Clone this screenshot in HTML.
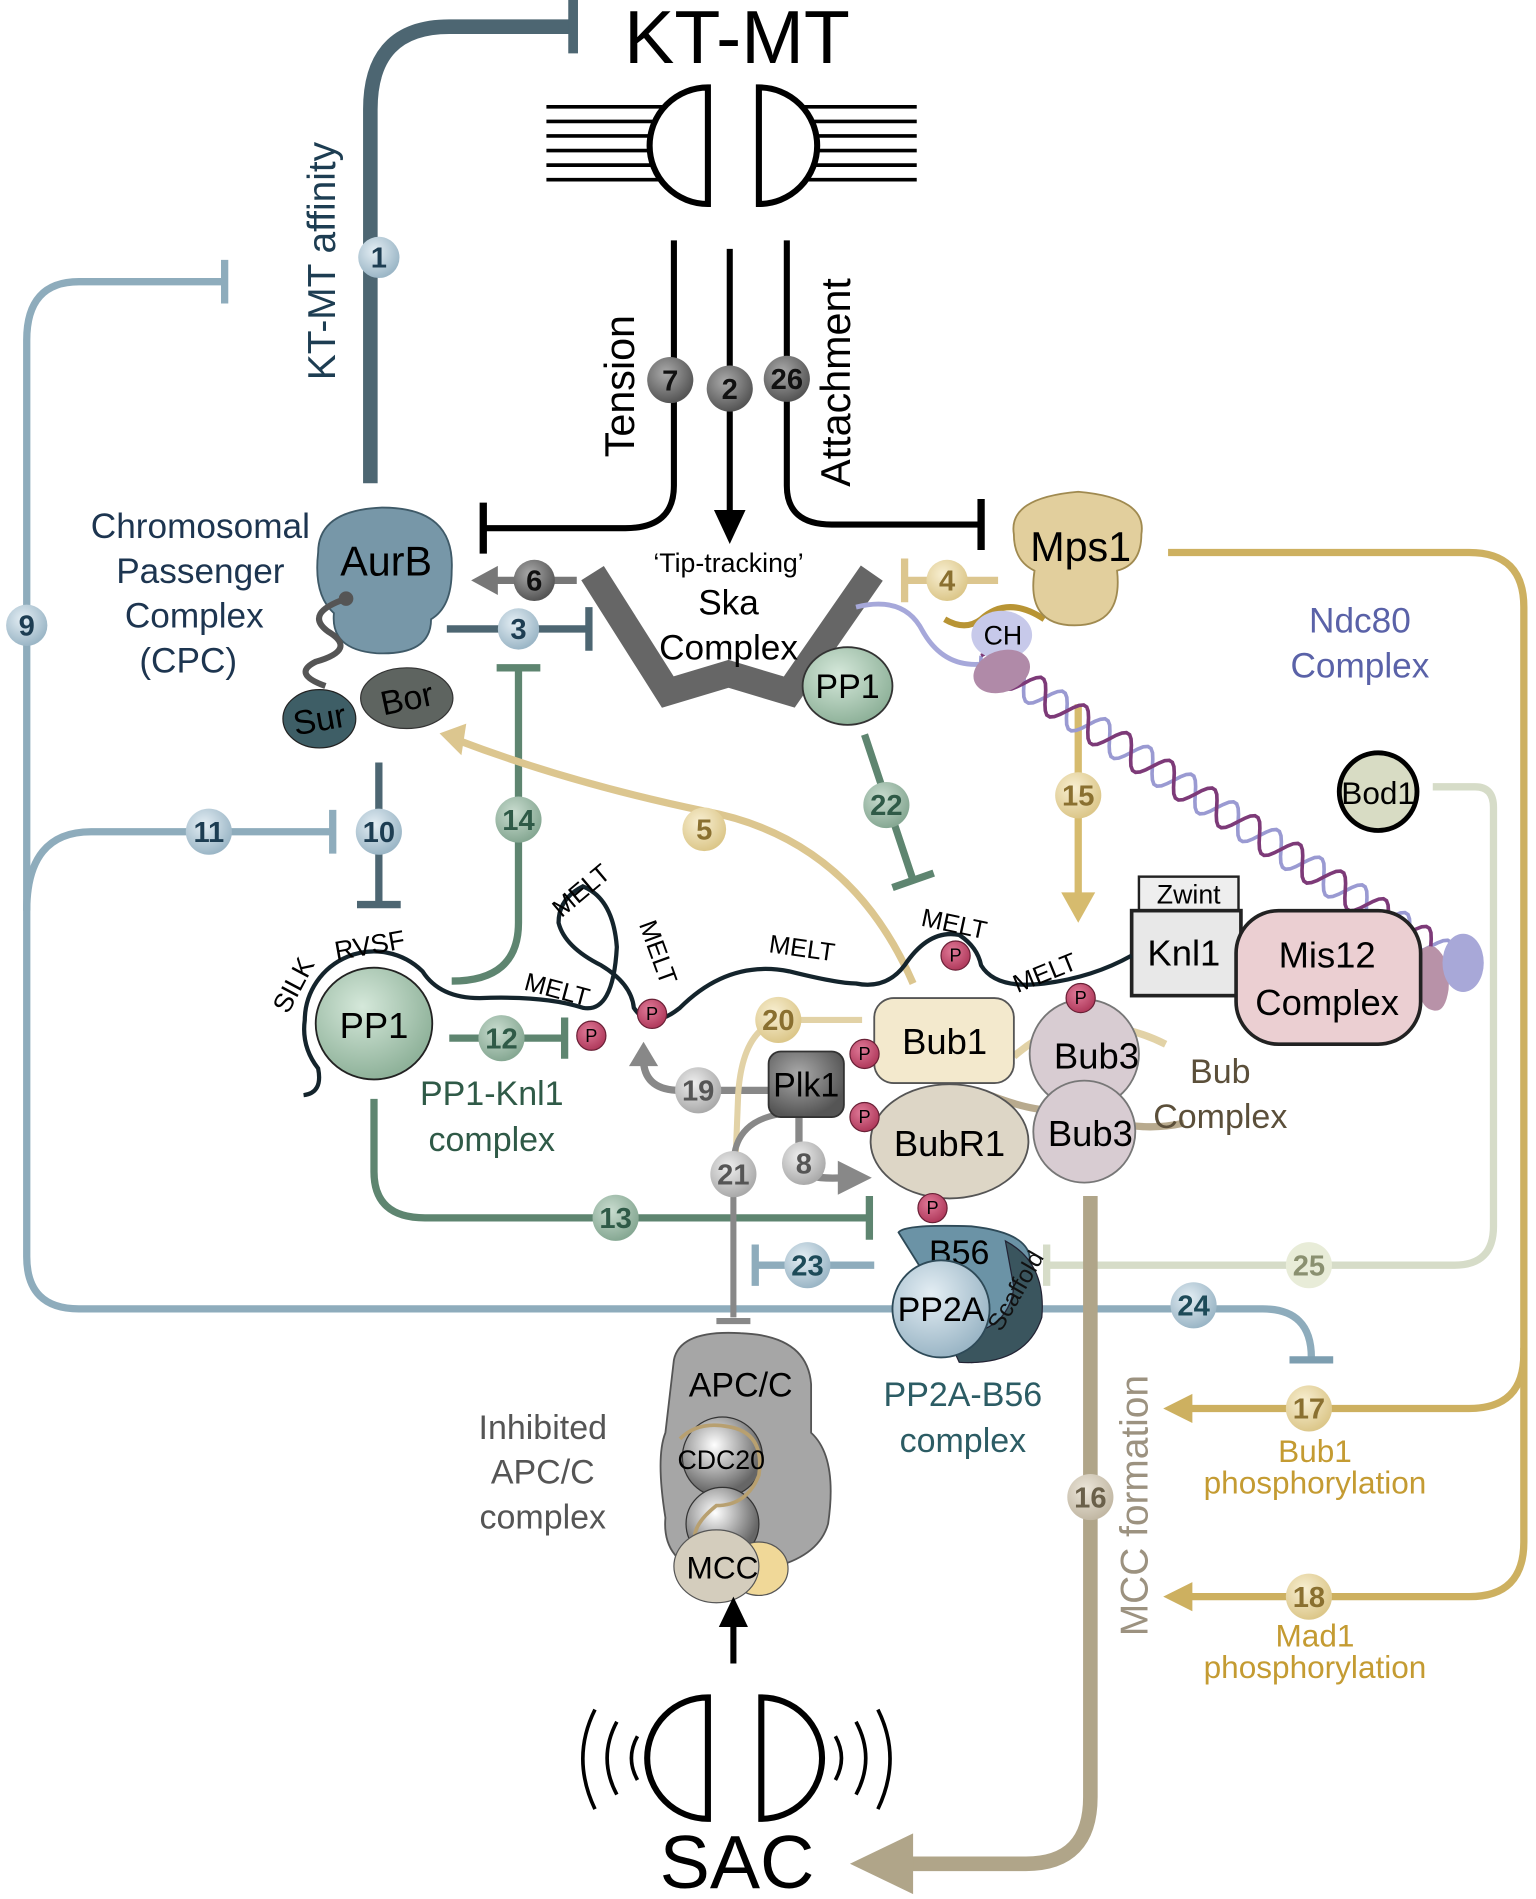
<!DOCTYPE html>
<html><head><meta charset="utf-8"><style>
html,body{margin:0;padding:0;background:#fff}
svg{display:block}
text{font-family:"Liberation Sans",sans-serif}
.n{font-weight:bold;font-size:24px;text-anchor:middle;dominant-baseline:central}
</style></head><body>
<svg id="s" width="1536" height="1899" viewBox="0 0 1265 1564" xmlns="http://www.w3.org/2000/svg">
<defs>
<radialGradient id="gb" cx="40%" cy="35%" r="65%"><stop offset="0" stop-color="#e4eef4"/><stop offset="1" stop-color="#9bb6c6"/></radialGradient>
<radialGradient id="gd" cx="40%" cy="35%" r="65%"><stop offset="0" stop-color="#aaa"/><stop offset="1" stop-color="#555"/></radialGradient>
<radialGradient id="gg" cx="40%" cy="35%" r="65%"><stop offset="0" stop-color="#c9dccf"/><stop offset="1" stop-color="#86a893"/></radialGradient>
<radialGradient id="gy" cx="40%" cy="35%" r="65%"><stop offset="0" stop-color="#f8efd2"/><stop offset="1" stop-color="#dcc78a"/></radialGradient>
<radialGradient id="gl" cx="40%" cy="35%" r="65%"><stop offset="0" stop-color="#eee"/><stop offset="1" stop-color="#aaa"/></radialGradient>
<radialGradient id="gt" cx="40%" cy="35%" r="65%"><stop offset="0" stop-color="#ece6da"/><stop offset="1" stop-color="#c2b8a4"/></radialGradient>
<radialGradient id="gp" cx="40%" cy="35%" r="65%"><stop offset="0" stop-color="#e07a98"/><stop offset="1" stop-color="#b03a5c"/></radialGradient>
<radialGradient id="gpp" cx="40%" cy="35%" r="65%"><stop offset="0" stop-color="#d5e8da"/><stop offset="1" stop-color="#8fb29a"/></radialGradient>
<radialGradient id="gs" cx="40%" cy="35%" r="60%"><stop offset="0" stop-color="#fff"/><stop offset="1" stop-color="#666"/></radialGradient>
</defs>

<text x="607" y="52" font-size="62" text-anchor="middle">KT-MT</text>
<g stroke="#000" stroke-width="3" fill="#fff">
<line x1="450" y1="88" x2="560" y2="88"/><line x1="450" y1="100" x2="560" y2="100"/><line x1="450" y1="112" x2="560" y2="112"/><line x1="450" y1="124" x2="560" y2="124"/><line x1="450" y1="136" x2="560" y2="136"/><line x1="450" y1="148" x2="560" y2="148"/>
<line x1="650" y1="88" x2="755" y2="88"/><line x1="650" y1="100" x2="755" y2="100"/><line x1="650" y1="112" x2="755" y2="112"/><line x1="650" y1="124" x2="755" y2="124"/><line x1="650" y1="136" x2="755" y2="136"/><line x1="650" y1="148" x2="755" y2="148"/>
<path d="M583 72 L583 168 A48 48 0 0 1 583 72 Z" stroke-width="5"/>
<path d="M625 72 L625 168 A48 48 0 0 0 625 72 Z" stroke-width="5"/>
</g>

<path d="M305 398 L305 90 Q305 22 370 22 L470 22" stroke="#4d6672" stroke-width="12" fill="none"/>
<line x1="472" y1="0" x2="472" y2="44" stroke="#4d6672" stroke-width="8"/>
<text transform="translate(276,215) rotate(-90)" font-size="32" fill="#1d3d52" text-anchor="middle">KT-MT affinity</text>

<path d="M185 232 L65 232 Q22 232 22 280 L22 1035 Q22 1078 65 1078 L1040 1078 Q1080 1078 1080 1118" stroke="#8eacbc" stroke-width="6" fill="none"/>
<line x1="185" y1="214" x2="185" y2="250" stroke="#8eacbc" stroke-width="6"/>
<line x1="1062" y1="1120" x2="1098" y2="1120" stroke="#7d9eb0" stroke-width="6"/>
<path d="M22 750 Q22 685 75 685 L272 685" stroke="#8eacbc" stroke-width="6" fill="none"/>
<line x1="274" y1="667" x2="274" y2="703" stroke="#8eacbc" stroke-width="6"/>
<line x1="312" y1="628" x2="312" y2="745" stroke="#4d6672" stroke-width="6"/>
<line x1="294" y1="745" x2="330" y2="745" stroke="#4d6672" stroke-width="6"/>

<text font-size="29" fill="#1d3550" text-anchor="middle"><tspan x="165" y="443">Chromosomal</tspan><tspan x="165" y="480">Passenger</tspan><tspan x="160" y="517">Complex</tspan><tspan x="155" y="554">(CPC)</tspan></text>
<path d="M262 455 Q262 420 315 418 Q375 418 372 470 Q372 500 355 510 Q355 540 310 538 Q272 535 275 505 Q258 490 262 455Z" fill="#7797a8" stroke="#3f5a68" stroke-width="1.5"/>
<text x="318" y="474" font-size="34" text-anchor="middle">AurB</text>
<path d="M285 493 Q250 505 270 520 Q295 535 260 545 Q240 555 268 565" stroke="#555" stroke-width="5" fill="none"/>
<circle cx="285" cy="493" r="6" fill="#555"/>
<ellipse cx="335" cy="575" rx="38" ry="25" fill="#5e6460" stroke="#333"/>
<ellipse cx="263" cy="592" rx="30" ry="24" fill="#3e5e66" stroke="#222"/>
<text x="335" y="585" font-size="28" text-anchor="middle" transform="rotate(-12 335 575)">Bor</text>
<text x="263" y="602" font-size="28" text-anchor="middle" transform="rotate(-10 263 592)">Sur</text>

<path d="M555 198 L555 400 Q555 435 515 435 L398 435" stroke="#000" stroke-width="5" fill="none"/>
<line x1="398" y1="414" x2="398" y2="456" stroke="#000" stroke-width="6"/>
<line x1="601" y1="205" x2="601" y2="425" stroke="#000" stroke-width="5"/>
<polygon points="588,420 614,420 601,448" fill="#000"/>
<path d="M648 198 L648 400 Q648 432 685 432 L808 432" stroke="#000" stroke-width="5" fill="none"/>
<line x1="808" y1="411" x2="808" y2="453" stroke="#000" stroke-width="6"/>
<text transform="translate(522,318) rotate(-90)" font-size="34" text-anchor="middle">Tension</text>
<text transform="translate(700,315) rotate(-90)" font-size="34" text-anchor="middle">Attachment</text>

<line x1="475" y1="478" x2="405" y2="478" stroke="#777" stroke-width="6"/>
<polygon points="410,466 410,490 388,478" fill="#777"/>
<line x1="368" y1="518" x2="485" y2="518" stroke="#4d6672" stroke-width="6"/>
<line x1="485" y1="500" x2="485" y2="536" stroke="#4d6672" stroke-width="6"/>

<polyline points="488,472 550,570 600,555 650,570 718,472" stroke="#666" stroke-width="22" fill="none" stroke-linejoin="miter"/>
<text x="600" y="471" font-size="22" text-anchor="middle">‘Tip-tracking’</text>
<text x="600" y="506" font-size="29" text-anchor="middle">Ska</text>
<text x="600" y="543" font-size="29" text-anchor="middle">Complex</text>
<ellipse cx="698" cy="565" rx="37" ry="32" fill="url(#gpp)" stroke="#333" stroke-width="1.5"/>
<text x="698" y="575" font-size="28" text-anchor="middle">PP1</text>

<path d="M372 808 Q427 808 427 760 L427 552" stroke="#5e8570" stroke-width="6" fill="none"/>
<line x1="409" y1="550" x2="445" y2="550" stroke="#5e8570" stroke-width="6"/>
<line x1="712" y1="605" x2="752" y2="725" stroke="#5e8570" stroke-width="6"/>
<line x1="735" y1="731" x2="769" y2="719" stroke="#5e8570" stroke-width="6"/>
<path d="M752 810 Q700 690 580 668 Q470 645 378 610" stroke="#dcc68f" stroke-width="6" fill="none"/>
<polygon points="362,604 384,596 380,622" fill="#dcc68f"/>

<path d="M962 455 L1210 455 Q1255 455 1255 500 L1255 1115 Q1255 1160 1210 1160 L975 1160" stroke="#cdb060" stroke-width="6" fill="none"/>
<path d="M1255 1110 L1255 1270 Q1255 1315 1210 1315 L975 1315" stroke="#cdb060" stroke-width="6" fill="none"/>
<polygon points="958,1160 982,1148 982,1172" fill="#cdb060"/>
<polygon points="958,1315 982,1303 982,1327" fill="#cdb060"/>
<text font-size="26" fill="#c49b32" text-anchor="middle"><tspan x="1083" y="1204">Bub1</tspan><tspan x="1083" y="1230">phosphorylation</tspan><tspan x="1083" y="1356">Mad1</tspan><tspan x="1083" y="1382">phosphorylation</tspan></text>
<line x1="822" y1="478" x2="745" y2="478" stroke="#dcc68f" stroke-width="6"/>
<line x1="745" y1="460" x2="745" y2="496" stroke="#dcc68f" stroke-width="6"/>
<line x1="888" y1="580" x2="888" y2="740" stroke="#d6bb6e" stroke-width="6"/>
<polygon points="874,735 902,735 888,760" fill="#d6bb6e"/>

<path d="M1180 648 L1215 648 Q1230 648 1230 665 L1230 1010 Q1230 1042 1198 1042 L862 1042" stroke="#d6dcc8" stroke-width="6" fill="none"/>
<line x1="862" y1="1025" x2="862" y2="1059" stroke="#d6dcc8" stroke-width="6"/>

<path id="hx1" stroke="#9a9ad2" stroke-width="3" fill="none"/>
<path id="hx2" stroke="#7d3a78" stroke-width="3" fill="none"/>
<path d="M705 500 Q745 490 760 520 Q780 555 820 545" stroke="#a6a8da" stroke-width="4" fill="none"/>
<path d="M778 510 Q795 520 808 510 Q830 490 860 510" stroke="#b89434" stroke-width="5" fill="none"/>
<ellipse cx="825" cy="523" rx="25" ry="20" fill="#c7c9ea"/>
<text x="826" y="531" font-size="22" text-anchor="middle">CH</text>
<ellipse cx="825" cy="553" rx="24" ry="17" fill="#b08aa8" transform="rotate(-20 825 553)"/>
<path d="M835 440 Q830 410 888 405 Q945 410 940 440 Q940 465 920 470 Q925 515 885 515 Q845 515 852 470 Q835 462 835 440Z" fill="#e2cf9d" stroke="#a08a50" stroke-width="1.5"/>
<text x="890" y="462" font-size="34" text-anchor="middle">Mps1</text>
<path d="M1168 805 Q1165 775 1182 780 Q1195 790 1193 815 Q1190 835 1180 832 Q1168 830 1168 805Z" fill="#b892a8"/>
<ellipse cx="1205" cy="793" rx="17" ry="24" fill="#a8a8d8"/>
<text font-size="29" fill="#5a62a8" text-anchor="middle"><tspan x="1120" y="521">Ndc80</tspan><tspan x="1120" y="558">Complex</tspan></text>
<circle cx="1135" cy="652" r="32" fill="#d8dcc4" stroke="#000" stroke-width="4"/>
<text x="1135" y="662" font-size="26" text-anchor="middle">Bod1</text>

<rect x="938" y="722" width="82" height="28" fill="#eee" stroke="#222" stroke-width="2"/>
<text x="979" y="744" font-size="22" text-anchor="middle">Zwint</text>
<rect x="932" y="750" width="90" height="70" fill="#e8e8e8" stroke="#222" stroke-width="3"/>
<text x="975" y="795" font-size="30" text-anchor="middle">Knl1</text>
<rect x="1018" y="750" width="152" height="110" rx="35" fill="#ebcfd2" stroke="#222" stroke-width="3"/>
<text font-size="30" text-anchor="middle"><tspan x="1093" y="797">Mis12</tspan><tspan x="1093" y="836">Complex</tspan></text>

<path d="M250 902 Q266 900 262 880 Q248 862 251 840 A57 57 0 0 1 348 800 Q362 822 395 822 Q450 820 480 830 Q505 835 508 780 Q505 740 480 730 Q460 740 460 760 Q465 780 495 795 Q520 810 522 830 Q535 850 560 830 Q600 790 650 800 Q690 810 705 810 Q730 815 745 795 Q765 765 790 770 Q805 780 808 795 Q820 815 860 810 Q900 805 932 787" stroke="#14242c" stroke-width="3.5" fill="none"/>
<text x="243" y="818" font-size="22" text-anchor="middle" transform="rotate(-62 243 812)">SILK</text>
<text x="305" y="786" font-size="22" text-anchor="middle" transform="rotate(-10 305 782)">RVSF</text>
<text x="458" y="822" font-size="21" text-anchor="middle" transform="rotate(15 458 818)">MELT</text>
<text x="480" y="740" font-size="21" text-anchor="middle" transform="rotate(-40 480 735)">MELT</text>
<text x="540" y="790" font-size="21" text-anchor="middle" transform="rotate(70 540 785)">MELT</text>
<text x="660" y="788" font-size="21" text-anchor="middle" transform="rotate(8 660 785)">MELT</text>
<text x="785" y="768" font-size="21" text-anchor="middle" transform="rotate(12 785 765)">MELT</text>
<text x="862" y="808" font-size="21" text-anchor="middle" transform="rotate(-22 862 805)">MELT</text>

<ellipse cx="308" cy="843" rx="48" ry="46" fill="url(#gpp)" stroke="#222" stroke-width="1.5"/>
<text x="308" y="855" font-size="30" text-anchor="middle">PP1</text>
<line x1="370" y1="855" x2="465" y2="855" stroke="#5e8570" stroke-width="6"/>
<line x1="465" y1="838" x2="465" y2="872" stroke="#5e8570" stroke-width="6"/>
<text font-size="28" fill="#2f5a47" text-anchor="middle"><tspan x="405" y="910">PP1-Knl1</tspan><tspan x="405" y="948">complex</tspan></text>
<path d="M308 905 L308 965 Q308 1003 350 1003 L716 1003" stroke="#5e8570" stroke-width="6" fill="none"/>
<line x1="716" y1="985" x2="716" y2="1021" stroke="#5e8570" stroke-width="6"/>

<path d="M640 898 L560 898 Q532 898 530 875" stroke="#888" stroke-width="6" fill="none"/>
<polygon points="518,878 542,878 530,858" fill="#888"/>
<path d="M710 840 L645 840 Q612 845 608 900 L606 950" stroke="#e2d2a6" stroke-width="5" fill="none"/>
<path d="M640 918 Q604 925 604 960 L604 1085" stroke="#888" stroke-width="5" fill="none"/>
<line x1="590" y1="1088" x2="618" y2="1088" stroke="#888" stroke-width="5"/>
<path d="M658 920 L658 960 Q660 972 695 970" stroke="#888" stroke-width="6" fill="none"/>
<polygon points="690,956 690,984 718,970" fill="#888"/>

<path d="M835 870 Q870 840 900 845 Q930 845 960 860" stroke="#e2d2a6" stroke-width="6" fill="none"/>
<path d="M810 900 Q860 920 880 912 Q930 935 975 925" stroke="#b8aa8e" stroke-width="6" fill="none"/>
<circle cx="893" cy="868" r="45" fill="#d8ccd2" stroke="#777" stroke-width="1.5"/>
<circle cx="893" cy="932" r="42" fill="#d8ccd2" stroke="#777" stroke-width="1.5"/>
<text x="903" y="880" font-size="30" text-anchor="middle">Bub3</text>
<text x="898" y="944" font-size="30" text-anchor="middle">Bub3</text>
<text font-size="28" fill="#5b4f3a" text-anchor="middle"><tspan x="1005" y="892">Bub</tspan><tspan x="1005" y="929">Complex</tspan></text>
<rect x="720" y="822" width="115" height="70" rx="16" fill="#f3e9cd" stroke="#555" stroke-width="1.5"/>
<text x="778" y="868" font-size="30" text-anchor="middle">Bub1</text>
<ellipse cx="782" cy="940" rx="65" ry="47" fill="#ddd6c6" stroke="#555" stroke-width="1.5"/>
<text x="782" y="952" font-size="30" text-anchor="middle">BubR1</text>
<rect x="633" y="866" width="62" height="54" rx="10" fill="url(#gd)" stroke="#333" stroke-width="1.5"/>
<text x="664" y="903" font-size="28" text-anchor="middle">Plk1</text>

<line x1="720" y1="1042" x2="622" y2="1042" stroke="#8eacbc" stroke-width="6"/>
<line x1="622" y1="1025" x2="622" y2="1059" stroke="#8eacbc" stroke-width="6"/>
<path d="M740 1015 Q745 1008 800 1010 Q845 1015 848 1035 L848 1075 Q848 1120 800 1122 L790 1095 Z" fill="#6b93a6" stroke="#2e4a58" stroke-width="1.5"/>
<path d="M828 1022 Q862 1040 858 1085 Q845 1125 790 1122 L780 1100 Q830 1100 835 1060 Z" fill="#3a555e" stroke="#223"/>
<text x="790" y="1041" font-size="28" text-anchor="middle">B56</text>
<circle cx="775" cy="1078" r="40" fill="url(#gb)" stroke="#2e4a58" stroke-width="1.5"/>
<text x="775" y="1088" font-size="28" text-anchor="middle">PP2A</text>
<text x="820" y="1100" font-size="20" fill="#111" transform="rotate(-60 820 1095)">Scaffold</text>
<text font-size="28" fill="#2c5c64" text-anchor="middle"><tspan x="793" y="1158">PP2A-B56</tspan><tspan x="793" y="1196">complex</tspan></text>

<path d="M555 1120 Q560 1095 610 1098 Q665 1100 668 1140 L668 1180 Q690 1200 682 1255 Q675 1280 640 1290 L580 1295 Q545 1285 548 1250 Q540 1200 548 1180 Z" fill="#a6a6a6" stroke="#555" stroke-width="1.5"/>
<text x="610" y="1150" font-size="28" text-anchor="middle">APC/C</text>
<circle cx="595" cy="1200" r="33" fill="url(#gs)" stroke="#333"/>
<circle cx="595" cy="1255" r="30" fill="url(#gs)" stroke="#333"/>
<path d="M560 1185 Q575 1170 600 1175 Q630 1180 625 1215 Q615 1240 590 1240 Q565 1260 575 1275" stroke="#b8a070" stroke-width="3" fill="none"/>
<text x="594" y="1210" font-size="22" text-anchor="middle">CDC20</text>
<ellipse cx="625" cy="1292" rx="24" ry="22" fill="#f0d898" stroke="#555"/>
<ellipse cx="590" cy="1290" rx="35" ry="30" fill="#d4cdbd" stroke="#555"/>
<text x="595" y="1300" font-size="26" text-anchor="middle">MCC</text>
<text font-size="28" fill="#555" text-anchor="middle"><tspan x="447" y="1185">Inhibited</tspan><tspan x="447" y="1222">APC/C</tspan><tspan x="447" y="1259">complex</tspan></text>
<line x1="604" y1="1370" x2="604" y2="1335" stroke="#000" stroke-width="5"/>
<polygon points="592,1340 616,1340 604,1315" fill="#000"/>

<path d="M898 985 L898 1480 Q898 1535 845 1535 L740 1535" stroke="#b0a589" stroke-width="12" fill="none"/>
<polygon points="752,1510 752,1560 700,1535" fill="#b0a589"/>
<text transform="translate(945,1240) rotate(-90)" font-size="32" fill="#9c9280" text-anchor="middle">MCC formation</text>

<g stroke="#000" stroke-width="5" fill="#fff">
<path d="M583 1398 L583 1498 A50 50 0 0 1 583 1398 Z"/>
<path d="M627 1398 L627 1498 A50 50 0 0 0 627 1398 Z"/>
<path d="M525 1430 Q515 1448 525 1466" fill="none" stroke-width="3"/>
<path d="M508 1418 Q492 1448 508 1478" fill="none" stroke-width="3"/>
<path d="M490 1408 Q470 1448 490 1490" fill="none" stroke-width="3"/>
<path d="M688 1430 Q698 1448 688 1466" fill="none" stroke-width="3"/>
<path d="M705 1418 Q721 1448 705 1478" fill="none" stroke-width="3"/>
<path d="M723 1408 Q743 1448 723 1490" fill="none" stroke-width="3"/>
</g>
<text x="607" y="1555" font-size="62" text-anchor="middle">SAC</text>

<g font-size="15" text-anchor="middle">
<circle cx="487" cy="853" r="12" fill="url(#gp)" stroke="#6a2036"/><text x="487" y="858">P</text>
<circle cx="537" cy="835" r="12" fill="url(#gp)" stroke="#6a2036"/><text x="537" y="840">P</text>
<circle cx="787" cy="787" r="12" fill="url(#gp)" stroke="#6a2036"/><text x="787" y="792">P</text>
<circle cx="890" cy="822" r="12" fill="url(#gp)" stroke="#6a2036"/><text x="890" y="827">P</text>
<circle cx="712" cy="868" r="12" fill="url(#gp)" stroke="#6a2036"/><text x="712" y="873">P</text>
<circle cx="712" cy="920" r="12" fill="url(#gp)" stroke="#6a2036"/><text x="712" y="925">P</text>
<circle cx="768" cy="995" r="12" fill="url(#gp)" stroke="#6a2036"/><text x="768" y="1000">P</text>
</g>

<g>
<circle cx="312" cy="212" r="17" fill="url(#gb)"/><text class="n" x="312" y="213" fill="#1d3d52" font-size="21">1</text>
<circle cx="22" cy="515" r="17" fill="url(#gb)"/><text class="n" x="22" y="516" fill="#1d3d52" font-size="21">9</text>
<circle cx="172" cy="685" r="19" fill="url(#gb)"/><text class="n" x="172" y="686" fill="#1d3d52">11</text>
<circle cx="312" cy="685" r="19" fill="url(#gb)"/><text class="n" x="312" y="686" fill="#1d3d52">10</text>
<circle cx="427" cy="518" r="17" fill="url(#gb)"/><text class="n" x="427" y="519" fill="#1d3d52">3</text>
<circle cx="440" cy="478" r="17" fill="url(#gd)"/><text class="n" x="440" y="479" fill="#111">6</text>
<circle cx="552" cy="313" r="19" fill="url(#gd)"/><text class="n" x="552" y="314" fill="#111">7</text>
<circle cx="601" cy="320" r="19" fill="url(#gd)"/><text class="n" x="601" y="321" fill="#111">2</text>
<circle cx="648" cy="312" r="19" fill="url(#gd)"/><text class="n" x="648" y="313" fill="#111">26</text>
<circle cx="780" cy="478" r="17" fill="url(#gy)"/><text class="n" x="780" y="479" fill="#8a7030">4</text>
<circle cx="427" cy="675" r="19" fill="url(#gg)"/><text class="n" x="427" y="676" fill="#2f5a47">14</text>
<circle cx="580" cy="683" r="18" fill="url(#gy)"/><text class="n" x="580" y="684" fill="#8a7030">5</text>
<circle cx="730" cy="663" r="19" fill="url(#gg)"/><text class="n" x="730" y="664" fill="#2f5a47">22</text>
<circle cx="888" cy="655" r="19" fill="url(#gy)"/><text class="n" x="888" y="656" fill="#8a7030">15</text>
<circle cx="413" cy="855" r="19" fill="url(#gg)"/><text class="n" x="413" y="856" fill="#2f5a47">12</text>
<circle cx="641" cy="840" r="19" fill="url(#gy)"/><text class="n" x="641" y="841" fill="#8a7030">20</text>
<circle cx="575" cy="898" r="19" fill="url(#gl)"/><text class="n" x="575" y="899" fill="#555">19</text>
<circle cx="604" cy="967" r="19" fill="url(#gl)"/><text class="n" x="604" y="968" fill="#555">21</text>
<circle cx="662" cy="958" r="18" fill="url(#gl)"/><text class="n" x="662" y="959" fill="#555">8</text>
<circle cx="507" cy="1003" r="19" fill="url(#gg)"/><text class="n" x="507" y="1004" fill="#2f5a47">13</text>
<circle cx="665" cy="1042" r="19" fill="url(#gb)"/><text class="n" x="665" y="1043" fill="#1d4a58">23</text>
<circle cx="983" cy="1075" r="19" fill="url(#gb)"/><text class="n" x="983" y="1076" fill="#1d4a58">24</text>
<circle cx="1078" cy="1042" r="19" style="fill:#e8ecd8"/><text class="n" x="1078" y="1043" fill="#8a9070">25</text>
<circle cx="1078" cy="1160" r="19" fill="url(#gy)"/><text class="n" x="1078" y="1161" fill="#8a7030">17</text>
<circle cx="1078" cy="1315" r="19" fill="url(#gy)"/><text class="n" x="1078" y="1316" fill="#8a7030">18</text>
<circle cx="898" cy="1233" r="19" fill="url(#gt)"/><text class="n" x="898" y="1234" fill="#6a604a">16</text>
</g>
</svg>
<script>
(function(){
 var x0=808,y0=540,x1=1195,y1=790,dx=x1-x0,dy=y1-y0,L=Math.hypot(dx,dy),ux=dx/L,uy=dy/L,nx=-uy,ny=ux;
 function mk(ph){var d="";for(var t=0;t<=L;t+=3){var a=12*Math.sin(t/42*2*Math.PI+ph);var x=x0+ux*t+nx*a,y=y0+uy*t+ny*a;d+=(t?"L":"M")+x.toFixed(1)+" "+y.toFixed(1);}return d;}
 document.getElementById('hx1').setAttribute('d',mk(0));
 document.getElementById('hx2').setAttribute('d',mk(Math.PI));
})();
</script>
</body></html>
